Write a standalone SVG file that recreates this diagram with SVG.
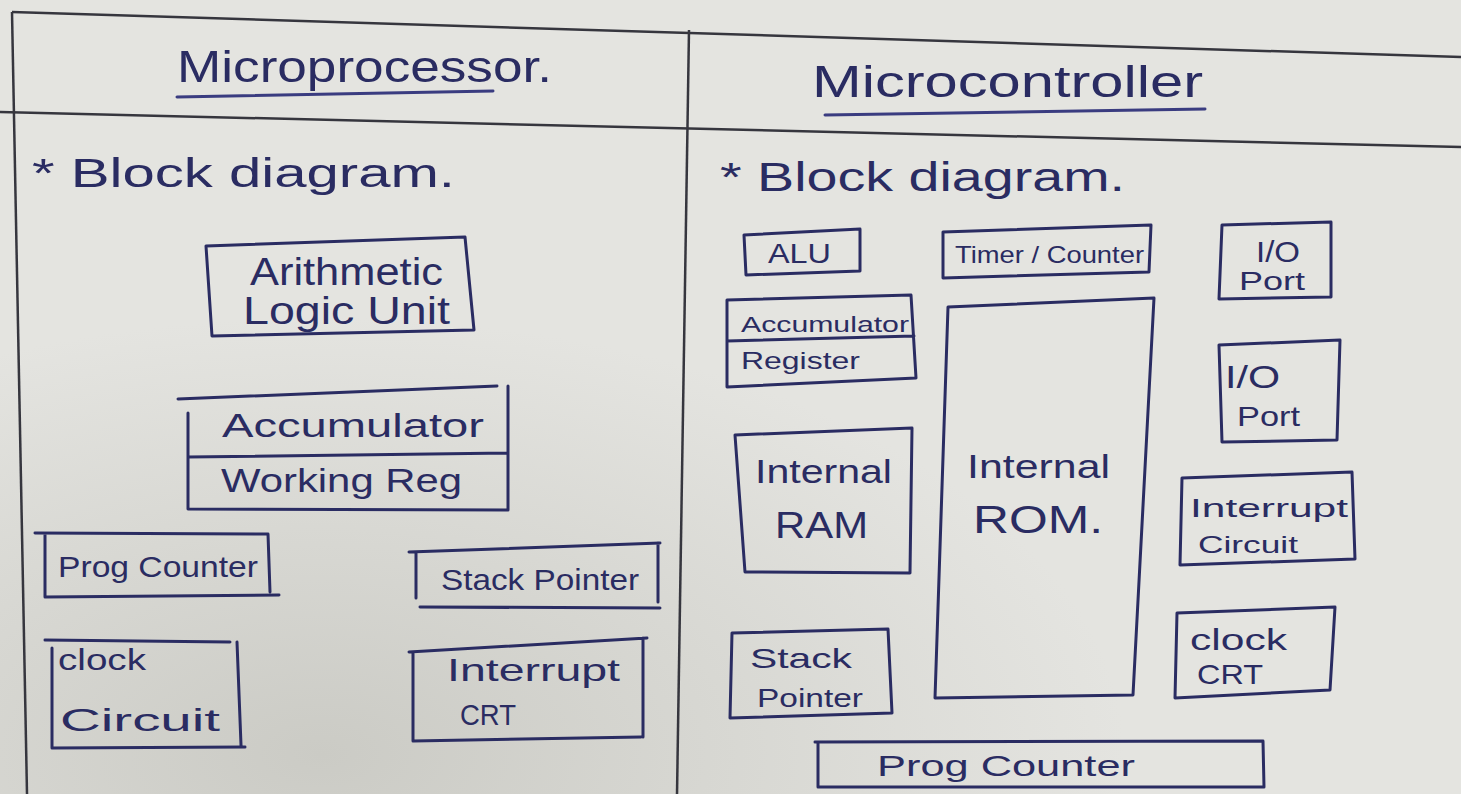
<svg xmlns="http://www.w3.org/2000/svg" width="1461" height="794" viewBox="0 0 1461 794">
<defs>
<radialGradient id="shade" cx="0.22" cy="0.95" r="0.55">
<stop offset="0" stop-color="#cbcbc5"/>
<stop offset="1" stop-color="#e4e4e0"/>
</radialGradient>
<style>
.box{fill:none;stroke:#2a2c62;stroke-width:3;stroke-linejoin:round;stroke-linecap:round}
.rule{fill:none;stroke:#36363e;stroke-width:2.5}
.ink{fill:none;stroke:#3a3c80;stroke-width:3;stroke-linecap:round}
text{font-family:"Liberation Sans","DejaVu Sans",sans-serif;fill:#2a2c62}
</style>
</defs>
<rect width="1461" height="794" fill="url(#shade)"/>
<g id="table">
<path class="rule" d="M12,12 L1461,57"/>
<path class="rule" d="M0,112 L1461,147"/>
<path class="rule" d="M12,12 L27,794"/>
<path class="rule" d="M689,30 L677,794"/>
</g>
<g id="title-microprocessor">
<text x="177" y="82" font-size="44" textLength="375" lengthAdjust="spacingAndGlyphs">Microprocessor.</text>
<path class="ink" d="M177,97 L493,91"/>
</g>
<g id="title-microcontroller">
<text x="812" y="97" font-size="44" textLength="391" lengthAdjust="spacingAndGlyphs">Microcontroller</text>
<path class="ink" d="M825,115 L1205,109"/>
</g>
<g id="left-heading"><text x="32" y="187" font-size="40" textLength="423" lengthAdjust="spacingAndGlyphs">* Block diagram.</text></g>
<g id="right-heading"><text x="720" y="191" font-size="40" textLength="405" lengthAdjust="spacingAndGlyphs">* Block diagram.</text></g>

<g id="mp-alu">
<path class="box" d="M206,246 L465,237 L474,330 L212,336 Z"/>
<text x="250" y="285" font-size="38" textLength="193" lengthAdjust="spacingAndGlyphs">Arithmetic</text>
<text x="243" y="324" font-size="38" textLength="207" lengthAdjust="spacingAndGlyphs">Logic Unit</text>
</g>
<g id="mp-acc">
<path class="box" d="M178,399 L497,386 M508,386 L508,510 L188,509 L188,413 M188,457 L508,453"/>
<text x="222" y="437" font-size="34" textLength="262" lengthAdjust="spacingAndGlyphs">Accumulator</text>
<text x="221" y="492" font-size="34" textLength="241" lengthAdjust="spacingAndGlyphs">Working Reg</text>
</g>
<g id="mp-pc">
<path class="box" d="M35,533 L268,534 L270,592 M45,534 L45,597 L279,595"/>
<text x="58" y="577" font-size="30" textLength="200" lengthAdjust="spacingAndGlyphs">Prog Counter</text>
</g>
<g id="mp-sp">
<path class="box" d="M409,552 L660,543 M658,543 L658,602 M416,552 L416,598 M420,607 L660,608"/>
<text x="441" y="590" font-size="30" textLength="198" lengthAdjust="spacingAndGlyphs">Stack Pointer</text>
</g>
<g id="mp-clock">
<path class="box" d="M45,640 L230,642 M237,642 L241,745 M52,648 L52,748 L245,747"/>
<text x="58" y="670" font-size="30" textLength="88" lengthAdjust="spacingAndGlyphs">clock</text>
<text x="60" y="731" font-size="32" textLength="160" lengthAdjust="spacingAndGlyphs">Circuit</text>
</g>
<g id="mp-int">
<path class="box" d="M409,652 L647,638 M643,638 L643,737 M413,652 L413,741 L641,737"/>
<text x="447" y="681" font-size="32" textLength="173" lengthAdjust="spacingAndGlyphs">Interrupt</text>
<text x="460" y="725" font-size="30" textLength="56" lengthAdjust="spacingAndGlyphs">CRT</text>
</g>

<g id="mc-alu">
<path class="box" d="M744,235 L860,229 L860,271 L746,275 Z"/>
<text x="768" y="263" font-size="28" textLength="63" lengthAdjust="spacingAndGlyphs">ALU</text>
</g>
<g id="mc-timer">
<path class="box" d="M943,232 L1151,225 L1149,272 L943,278 Z"/>
<text x="955" y="263" font-size="24" textLength="189" lengthAdjust="spacingAndGlyphs">Timer / Counter</text>
</g>
<g id="mc-io1">
<path class="box" d="M1222,225 L1331,222 L1331,297 L1219,299 Z"/>
<text x="1256" y="262" font-size="30" textLength="44" lengthAdjust="spacingAndGlyphs">I/O</text>
<text x="1239" y="290" font-size="26" textLength="66" lengthAdjust="spacingAndGlyphs">Port</text>
</g>
<g id="mc-acc">
<path class="box" d="M727,300 L911,295 L916,378 L727,387 Z M727,341 L914,336"/>
<text x="741" y="332" font-size="22" textLength="168" lengthAdjust="spacingAndGlyphs">Accumulator</text>
<text x="741" y="369" font-size="24" textLength="119" lengthAdjust="spacingAndGlyphs">Register</text>
</g>
<g id="mc-rom">
<path class="box" d="M948,307 L1154,298 L1133,695 L935,698 Z"/>
<text x="967" y="478" font-size="34" textLength="143" lengthAdjust="spacingAndGlyphs">Internal</text>
<text x="973" y="533" font-size="38" textLength="130" lengthAdjust="spacingAndGlyphs">ROM.</text>
</g>
<g id="mc-io2">
<path class="box" d="M1219,345 L1340,340 L1337,440 L1222,442 Z"/>
<text x="1225" y="388" font-size="32" textLength="55" lengthAdjust="spacingAndGlyphs">I/O</text>
<text x="1237" y="426" font-size="28" textLength="63" lengthAdjust="spacingAndGlyphs">Port</text>
</g>
<g id="mc-ram">
<path class="box" d="M735,435 L912,428 L910,573 L745,572 Z"/>
<text x="755" y="483" font-size="34" textLength="137" lengthAdjust="spacingAndGlyphs">Internal</text>
<text x="775" y="538" font-size="36" textLength="93" lengthAdjust="spacingAndGlyphs">RAM</text>
</g>
<g id="mc-int">
<path class="box" d="M1182,478 L1352,472 L1355,559 L1180,565 Z"/>
<text x="1190" y="517" font-size="26" textLength="158" lengthAdjust="spacingAndGlyphs">Interrupt</text>
<text x="1198" y="553" font-size="24" textLength="100" lengthAdjust="spacingAndGlyphs">Circuit</text>
</g>
<g id="mc-sp">
<path class="box" d="M732,633 L888,629 L892,713 L730,718 Z"/>
<text x="750" y="668" font-size="28" textLength="102" lengthAdjust="spacingAndGlyphs">Stack</text>
<text x="757" y="707" font-size="26" textLength="106" lengthAdjust="spacingAndGlyphs">Pointer</text>
</g>
<g id="mc-clock">
<path class="box" d="M1177,613 L1335,607 L1330,690 L1175,698 Z"/>
<text x="1190" y="650" font-size="30" textLength="97" lengthAdjust="spacingAndGlyphs">clock</text>
<text x="1197" y="684" font-size="28" textLength="66" lengthAdjust="spacingAndGlyphs">CRT</text>
</g>
<g id="mc-pc">
<path class="box" d="M815,742 L1263,741 L1264,787 M818,742 L818,787 L1264,787"/>
<text x="877" y="776" font-size="30" textLength="258" lengthAdjust="spacingAndGlyphs">Prog Counter</text>
</g>
</svg>
